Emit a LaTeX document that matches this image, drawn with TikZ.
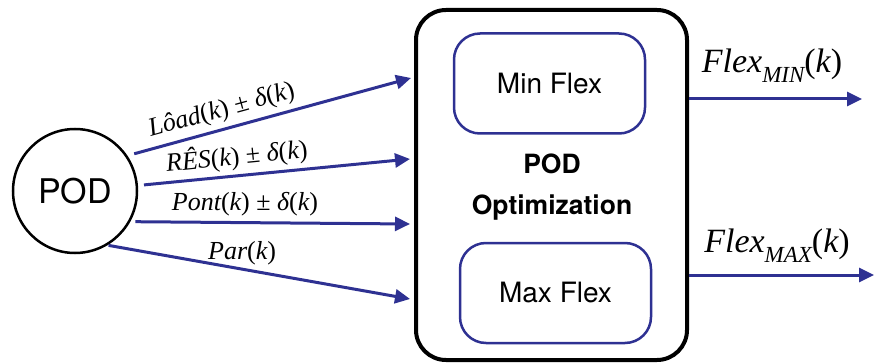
\documentclass[tikz,border=0pt]{standalone}
\usepackage{fontspec}
\setmainfont{TeX Gyre Heros}
\newfontfamily\tms{Liberation Serif}
\usetikzlibrary{arrows.meta}
\definecolor{flow}{RGB}{46,49,146}
% italic subscript set low and small
\newcommand\lowsub[1]{\raisebox{-0.3em}{\fontsize{23}{25}\selectfont\itshape #1}}
% italic argument in upright brackets
\newcommand\ofk{\upshape(\itshape k\upshape)}
\begin{document}
\begin{tikzpicture}[x=1pt,y=-1pt,
  flowarrow/.style={draw=flow, line width=3pt, -{Triangle[length=15pt,width=14pt]}},
  inlabel/.style={font=\tms\fontsize{26}{28}\selectfont, inner sep=1pt},
  outlabel/.style={font=\tms\fontsize{34}{36}\selectfont, inner sep=0pt},
  innerbox/.style={draw=flow, line width=2.5pt, rounded corners=26pt,
    minimum width=191pt, minimum height=100pt, font=\fontsize{28}{32}\selectfont}]
\useasboundingbox (0,0) rectangle (874,363);

% source node
\node[circle, draw, line width=2.5pt, minimum size=124pt, inner sep=0pt,
  font=\fontsize{34}{36}\selectfont] (pod) at (75,191) {POD};

% optimisation block with its two sub-problems
\node[draw, line width=4pt, rounded corners=30pt, minimum width=271pt,
  minimum height=350pt] (opt) at (551.5,185) {};
\node[innerbox] (minflex) at (549.5,83.5) {Min Flex};
\node[innerbox] (maxflex) at (555.5,293) {Max Flex};
\node[align=center, font=\bfseries\fontsize{26.5}{41}\selectfont] (title) at (552,187)
  {POD\\Optimization};

% input arrow tips
\coordinate (in1) at (411,78);
\coordinate (in2) at (410,159);
\coordinate (in3) at (410,224);
\coordinate (in4) at (410,299);
% output arrow tips
\coordinate (out1) at (862,99);
\coordinate (out2) at (874,275);

\draw[flowarrow, shorten <=7pt] (pod.34.6) -- (in1)
  node[inlabel, pos=0.35, above=4pt, sloped]
  {\itshape Lôad\ofk{} ± \itshape δ\ofk};
\draw[flowarrow, shorten <=6pt] (pod.5.9) -- (in2)
  node[inlabel, pos=0.37, above=3pt, sloped]
  {\itshape RÊS\ofk{} ± \itshape δ\ofk};
\draw[flowarrow, shorten <=5pt] (pod.-29.6) -- (in3)
  node[inlabel, pos=0.41, above=4pt]
  {\itshape Pont\ofk{} ± \itshape δ\ofk};
\draw[flowarrow, shorten <=1pt] (pod.-59.3) -- (in4)
  node[inlabel, pos=0.445, above=2pt]
  {\itshape Par\ofk};

\draw[flowarrow] (opt.east |- out1) -- (out1);
\draw[flowarrow] (opt.east |- out2) -- (out2);
\node[outlabel] (flexmin) at (772,66) {\itshape Flex\lowsub{MIN}\ofk};
\node[outlabel] (flexmax) at (777,246) {\itshape Flex\lowsub{MAX}\ofk};
\end{tikzpicture}
\end{document}
